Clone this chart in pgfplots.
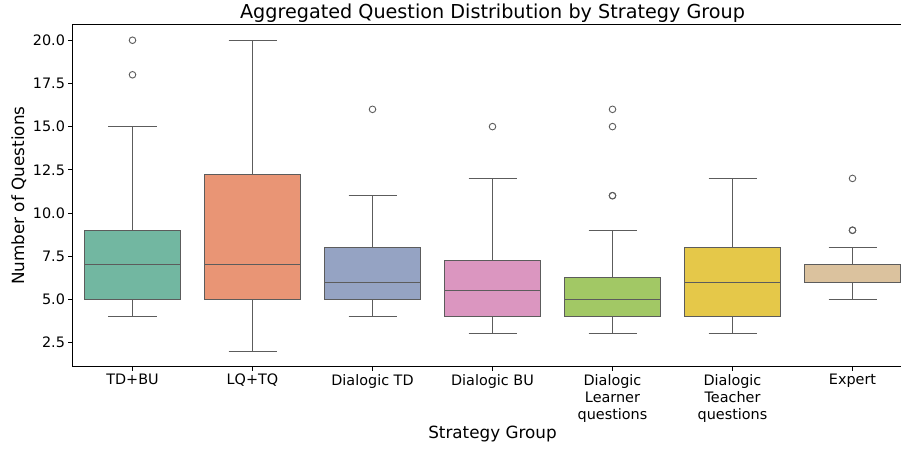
\documentclass[border=0pt]{standalone}
\usepackage{fontspec}
\setmainfont{DejaVu Sans}
\usepackage{pgfplots}
\pgfplotsset{compat=1.18}
\usepgfplotslibrary{statistics}
\definecolor{c1}{HTML}{72B7A1}
\definecolor{c2}{HTML}{E99575}
\definecolor{c3}{HTML}{95A3C3}
\definecolor{c4}{HTML}{DB96C0}
\definecolor{c5}{HTML}{A2C865}
\definecolor{c6}{HTML}{E5C849}
\definecolor{c7}{HTML}{DBC29E}
\definecolor{lc}{HTML}{5C5C5C}
\begin{document}
\begin{tikzpicture}
\begin{axis}[name=ax, scale only axis, width=840pt, height=342pt,
  xmin=-0.5, xmax=6.5, ymin=1.1, ymax=20.9,
  axis line style={black, line width=0.9pt},
  tick align=outside, major tick length=4pt,
  tick style={black, line width=0.9pt},
  tick pos=left,
  xtick={0,1,2,3,4,5,6},
  xticklabels={TD+BU, LQ+TQ, Dialogic TD, Dialogic BU, {Dialogic\\Learner\\questions}, {Dialogic\\Teacher\\questions}, Expert},
  ytick={2.5,5,7.5,10,12.5,15,17.5,20},
  /pgf/number format/assume math mode=true,
  yticklabel style={/pgf/number format/fixed, /pgf/number format/fixed zerofill, /pgf/number format/precision=1},
  ticklabel style={font=\fontsize{14.4}{17}\selectfont},
  xticklabel style={align=center},
  title={Aggregated Question Distribution by Strategy Group},
  title style={font=\fontsize{19.2}{22}\selectfont, at={(axis description cs:0.5,1)}, anchor=base, yshift=0pt},
  xlabel={Strategy Group},
  xlabel style={font=\fontsize{16.8}{19}\selectfont, at={(axis description cs:0.5,0)}, anchor=base, yshift=-72pt},
  ylabel={Number of Questions},
  ylabel style={font=\fontsize{16.8}{19}\selectfont, at={(axis description cs:-0.0575,0.5)}, anchor=base},
  boxplot/draw direction=y,
  boxplot/box extend=0.8,
  boxplot/whisker extend=0.4,
]
\pgfplotsset{every axis plot/.append style={draw=lc, line width=1.1pt, mark=o, mark size=3.3pt, mark options={draw=lc, fill=none, line width=0.9pt}}}
\addplot[fill=c1, boxplot prepared={draw position=0, lower whisker=4, lower quartile=5, median=7, upper quartile=9, upper whisker=15}] coordinates {(0,18) (0,20)};
\addplot[fill=c2, boxplot prepared={draw position=1, lower whisker=2, lower quartile=5, median=7, upper quartile=12.25, upper whisker=20}] coordinates {};
\addplot[fill=c3, boxplot prepared={draw position=2, lower whisker=4, lower quartile=5, median=6, upper quartile=8, upper whisker=11}] coordinates {(2,16)};
\addplot[fill=c4, boxplot prepared={draw position=3, lower whisker=3, lower quartile=4, median=5.5, upper quartile=7.25, upper whisker=12}] coordinates {(3,15)};
\addplot[fill=c5, boxplot prepared={draw position=4, lower whisker=3, lower quartile=4, median=5, upper quartile=6.25, upper whisker=9}] coordinates {(4,11) (4,11) (4,15) (4,16)};
\addplot[fill=c6, boxplot prepared={draw position=5, lower whisker=3, lower quartile=4, median=6, upper quartile=8, upper whisker=12}] coordinates {};
\addplot[fill=c7, boxplot prepared={draw position=6, lower whisker=5, lower quartile=6, median=7, upper quartile=7, upper whisker=8}] coordinates {(6,9) (6,9) (6,12)};
\end{axis}
\pgfresetboundingbox
\path[use as bounding box] ([xshift=-72.5pt,yshift=-82.3pt]ax.south west) rectangle ([xshift=828.5pt,yshift=366.7pt]ax.south west);
\end{tikzpicture}
\end{document}
